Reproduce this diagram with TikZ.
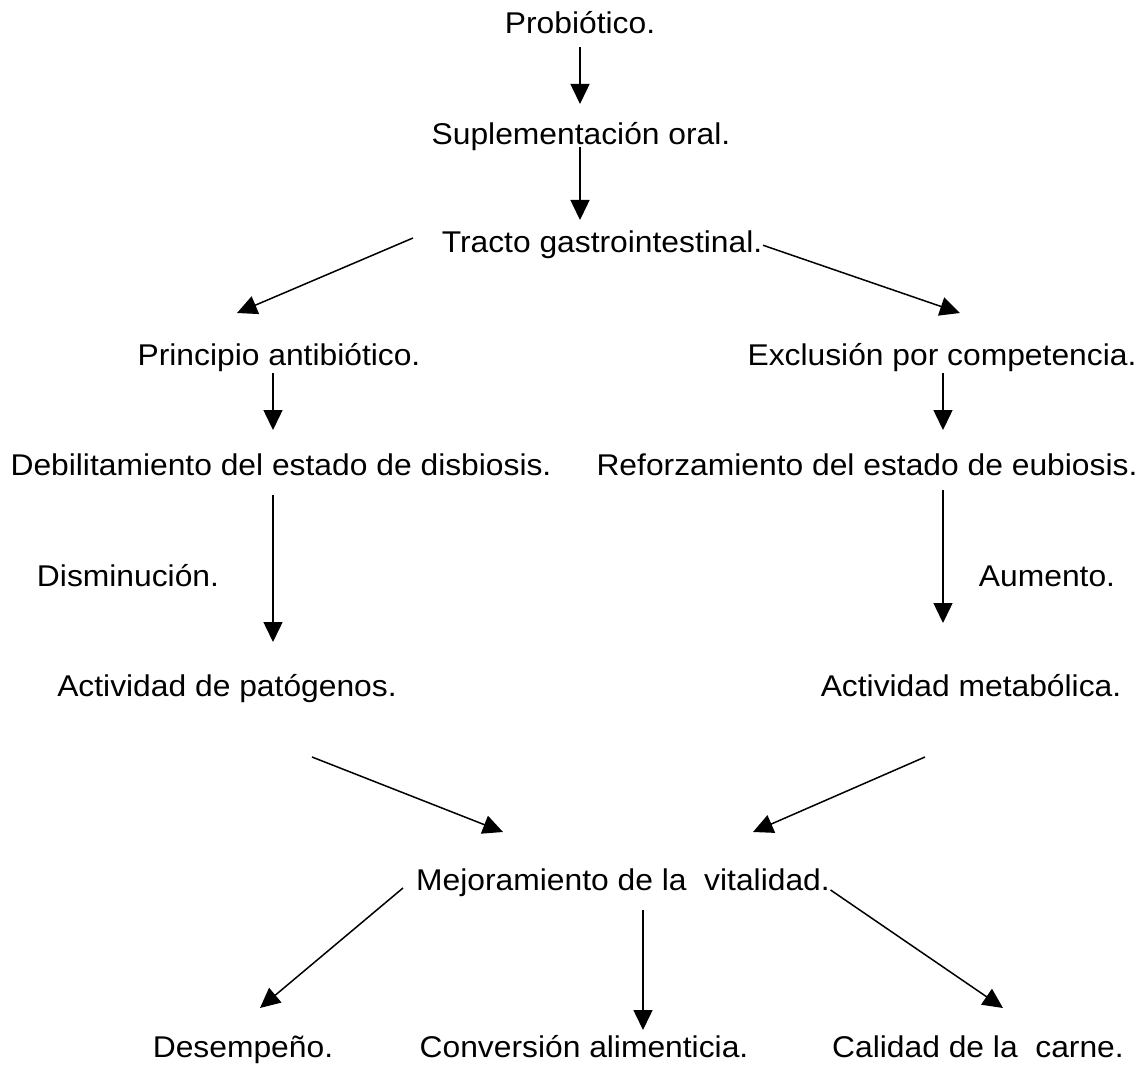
\documentclass[tikz,border=0pt]{standalone}
\usepackage{fontspec}
\setmainfont{Liberation Sans}[FakeStretch=1.06]
\usetikzlibrary{arrows.meta}

\begin{document}
\begin{tikzpicture}[x=0.5pt, y=-0.5pt, line width=0.75pt,
		>={Triangle[length=10pt, width=9.5pt]},
		txt/.style={anchor=base, inner sep=0pt, font=\fontsize{15}{18}\selectfont}]
		\useasboundingbox (0,0) rectangle (1148,1065);

		% center column
		\node[txt] (prob) at (580, 34) {Probiótico.};
		\node[txt] (supl) at (581, 145) {Suplementación oral.};
		\node[txt] (tracto) at (602, 253) {Tracto gastrointestinal.};

		% left branch
		\node[txt] (princ) at (279, 365) {Principio antibiótico.};
		\node[txt] (debil) at (281, 475) {Debilitamiento del estado de disbiosis.};
		\node[txt] (dismin) at (128, 586) {Disminución.};
		\node[txt] (actpat) at (227, 696) {Actividad de patógenos.};

		% right branch
		\node[txt] (excl) at (942, 365) {Exclusión por competencia.};
		\node[txt] (refor) at (867, 475) {Reforzamiento del estado de eubiosis.};
		\node[txt] (aument) at (1047, 586) {Aumento.};
		\node[txt] (actmet) at (971, 696) {Actividad metabólica.};

		% bottom
		\node[txt] (mejor) at (623, 890) {Mejoramiento de la\ \ vitalidad.};
		\node[txt] (desemp) at (243, 1057) {Desempeño.};
		\node[txt] (conver) at (584, 1057) {Conversión alimenticia.};
		\node[txt] (calid) at (978, 1057) {Calidad de la\ \ carne.};

		% arrow ends
		\coordinate (prob-s) at (580, 47);
		\coordinate (supl-n) at (580, 104);
		\coordinate (supl-s) at (580, 147);
		\coordinate (tracto-n) at (580, 220);
		\coordinate (tracto-w) at (413, 238);
		\coordinate (princ-n) at (237, 313);
		\coordinate (excl-n) at (960, 313);
		\coordinate (princ-s) at (273, 373);
		\coordinate (debil-n) at (273, 430);
		\coordinate (excl-s) at (943, 373);
		\coordinate (refor-n) at (943, 430);
		\coordinate (debil-s) at (273, 495);
		\coordinate (actpat-n) at (273, 642);
		\coordinate (refor-s) at (943, 490);
		\coordinate (actmet-n) at (943, 623);
		\coordinate (actpat-s) at (312, 757);
		\coordinate (mejor-nw) at (503, 832);
		\coordinate (actmet-s) at (925, 757);
		\coordinate (mejor-ne) at (753, 832);
		\coordinate (mejor-w) at (403, 888);
		\coordinate (desemp-n) at (260, 1008);
		\coordinate (mejor-s) at (643, 910);
		\coordinate (conver-n) at (643, 1030);
		\coordinate (calid-n) at (1003, 1008);

		\draw[->] (prob-s) -- (supl-n);
		\draw[->] (supl-s) -- (tracto-n);
		\draw[->] (tracto-w) -- (princ-n);
		\draw[->] (tracto.east) -- (excl-n);
		\draw[->] (princ-s) -- (debil-n);
		\draw[->] (excl-s) -- (refor-n);
		\draw[->] (debil-s) -- (actpat-n);
		\draw[->] (refor-s) -- (actmet-n);
		\draw[->] (actpat-s) -- (mejor-nw);
		\draw[->] (actmet-s) -- (mejor-ne);
		\draw[->] (mejor-w) -- (desemp-n);
		\draw[->] (mejor-s) -- (conver-n);
		\draw[->] (mejor.base east) -- (calid-n);
	\end{tikzpicture}
\end{document}
